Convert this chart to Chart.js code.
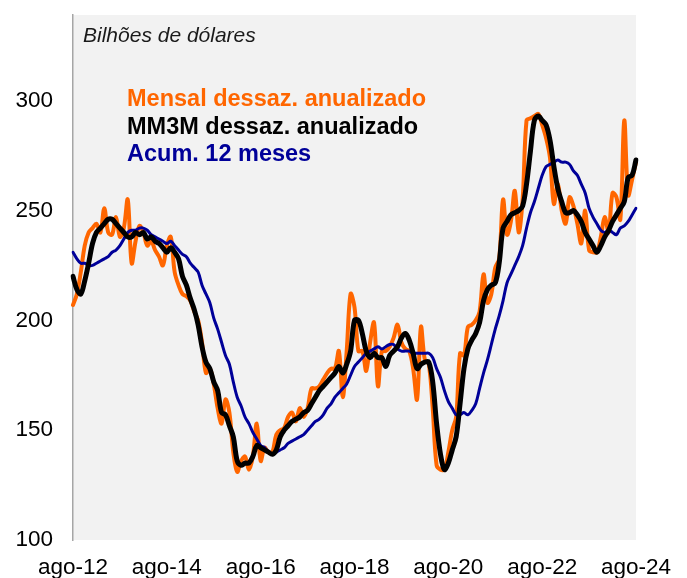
<!DOCTYPE html>
<html lang="pt">
<head>
<meta charset="UTF-8">
<title>Bilhões de dólares</title>
<style>
  body { margin: 0; background: #ffffff; }
  #grafico { display: block; }
</style>
</head>
<body>
<canvas id="grafico" width="687" height="578"></canvas>
<script src="https://cdn.jsdelivr.net/npm/chart.js"></script>
<script>
// meses de ago-12 a ago-24
const nomesMeses = ['jan', 'fev', 'mar', 'abr', 'mai', 'jun', 'jul', 'ago', 'set', 'out', 'nov', 'dez'];
const mesInicial = 7;   // ago
const anoInicial = 12;
const totalMeses = 145;

// Mensal dessaz. anualizado
const mensal = [
  207, 212, 222, 234, 240, 242, 244, 240, 251, 240, 239, 247, 238, 242, 255, 226, 236, 243, 240, 234, 236, 232, 229, 225, 234,
  238, 222, 216, 212, 211, 209, 204, 200, 190, 176, 178, 171, 160, 153, 164, 158, 140, 131, 136, 138, 132, 138, 153, 136, 142,
  140, 140, 148, 150, 151, 156, 158, 154, 160, 156, 160, 169, 169, 170, 173, 176, 178, 178, 186, 165, 186, 212, 206, 186, 186,
  177, 190, 199, 170, 186, 186, 188, 192, 198, 190, 187, 186, 178, 164, 197, 182, 180, 160, 134, 132, 132, 140, 150, 156, 185,
  184, 197, 198, 200, 204, 221, 208, 212, 224, 228, 255, 239, 245, 259, 240, 255, 291, 292, 293, 294, 289, 283, 274, 253, 262,
  250, 244, 256, 252, 244, 235, 250, 232, 231, 231, 238, 247, 240, 258, 256, 246, 291, 257, 264, 272
];

// MM3M dessaz. anualizado
const mm3m = [
  220, 214, 212, 218, 226, 235, 240, 242, 244, 246, 246, 244, 242, 240, 238, 238, 240, 239, 240, 237, 238, 236, 235, 233, 231,
  233, 231, 228, 220, 216, 210, 205, 198, 188, 181, 178, 172, 168, 158, 157, 152, 147, 136, 134, 135, 135, 138, 143, 142, 141,
  140, 139, 141, 147, 150, 152, 154, 155, 156, 158, 159, 162, 165, 168, 170, 172, 174, 176, 179, 176, 180, 186, 200, 200, 194,
  186, 183, 185, 183, 183, 179, 184, 186, 188, 192, 194, 191, 185, 178, 180, 181, 181, 172, 153, 139, 132, 135, 141, 147, 162,
  178, 187, 191, 194, 199, 209, 214, 216, 217, 226, 242, 245, 248, 249, 250, 252, 262, 277, 291, 293, 291, 289, 282, 270, 260,
  254, 249, 249, 250, 248, 245, 240, 237, 234, 231, 234, 238, 241, 245, 248, 251, 254, 265, 266, 273
];

// Acum. 12 meses
const acum12 = [
  231, 228, 226, 226, 225, 225, 226, 227, 228, 229, 231, 232, 234, 237, 240, 241, 241, 242, 242, 241, 239, 238, 237, 236, 235,
  236, 234, 232, 230, 229, 226, 224, 222, 216, 212, 208, 201, 196, 190, 184, 180, 172, 165, 161, 156, 153, 149, 146, 143, 142,
  140, 139, 140, 141, 142, 144, 145, 146, 147, 148, 150, 152, 154, 155, 157, 160, 162, 165, 167, 169, 171, 175, 179, 181, 183,
  185, 186, 187, 188, 187, 188, 189, 189, 187, 186, 186, 186, 185, 185, 185, 185, 185, 183, 178, 174, 168, 163, 160, 157, 157,
  158, 157, 159, 162, 169, 176, 182, 189, 196, 202, 209, 217, 221, 225, 229, 234, 242, 249, 254, 260, 266, 270, 271, 272, 273,
  272, 272, 271, 268, 266, 262, 258, 251, 247, 244, 241, 240, 241, 240, 239, 242, 243, 245, 248, 251
];

const ticksY = [100, 150, 200, 250, 300];

const rotulos = [];
for (let i = 0; i < totalMeses; i++) {
  const m = (mesInicial + i) % 12;
  const a = anoInicial + Math.floor((mesInicial + i) / 12);
  rotulos.push(nomesMeses[m] + '-' + a);
}

const fonte = '"Liberation Sans", Arial, sans-serif';

const fundoETextos = {
  id: 'fundoETextos',
  beforeDraw(chart) {
    const {ctx, chartArea: a} = chart;
    ctx.save();
    ctx.fillStyle = '#f2f2f2';
    ctx.fillRect(a.left, a.top, a.right - a.left, a.bottom - a.top);
    ctx.restore();
  },
  afterDraw(chart) {
    const {ctx, chartArea: a} = chart;
    ctx.save();
    ctx.textBaseline = 'middle';
    ctx.textAlign = 'left';
    ctx.fillStyle = '#1a1a1a';
    ctx.font = 'italic 21px ' + fonte;
    ctx.fillText('Bilhões de dólares', a.left + 10, 36);

    ctx.font = 'bold 23.5px ' + fonte;
    ctx.fillStyle = '#ff6600';
    ctx.fillText('Mensal dessaz. anualizado', a.left + 54, 100);
    ctx.fillStyle = '#000000';
    ctx.fillText('MM3M dessaz. anualizado', a.left + 54, 128);
    ctx.fillStyle = '#000099';
    ctx.fillText('Acum. 12 meses', a.left + 54, 155);
    ctx.restore();
  }
};

const ctx = document.getElementById('grafico').getContext('2d');
new Chart(ctx, {
  type: 'line',
  data: {
    labels: rotulos,
    datasets: [
      {
        label: 'MM3M dessaz. anualizado',
        data: mm3m,
        borderColor: '#000000',
        borderWidth: 5,
        order: 0
      },
      {
        label: 'Acum. 12 meses',
        data: acum12,
        borderColor: '#000099',
        borderWidth: 3,
        order: 1
      },
      {
        label: 'Mensal dessaz. anualizado',
        data: mensal,
        borderColor: '#ff6600',
        borderWidth: 4,
        order: 2
      }
    ]
  },
  options: {
    responsive: false,
    devicePixelRatio: 1,
    animation: false,
    layout: { padding: { top: 15, right: 51, left: 0, bottom: 0 } },
    elements: {
      point: { radius: 0 },
      line: { tension: 0.35, borderCapStyle: 'round', borderJoinStyle: 'round' }
    },
    plugins: {
      legend: { display: false },
      tooltip: { enabled: false }
    },
    scales: {
      x: {
        grid: { display: false },
        border: { display: false },
        ticks: {
          autoSkip: false,
          maxRotation: 0,
          padding: 6,
          color: '#000000',
          font: { family: fonte, size: 22.5 },
          callback: function(val, i) { return i % 24 === 0 ? rotulos[i] : null; }
        },
        afterFit: function(s) { s.height = 38; }
      },
      y: {
        min: 100,
        max: 339,
        grid: { display: false },
        border: { display: true, color: '#a6a6a6', width: 1.5 },
        afterBuildTicks: function(s) { s.ticks = ticksY.map(v => ({ value: v })); },
        ticks: {
          padding: 12,
          color: '#000000',
          font: { family: fonte, size: 22.5 }
        },
        afterFit: function(s) {
          s.width = 73;
          s.paddingTop = 0;
          s.paddingBottom = 0;
        }
      }
    }
  },
  plugins: [fundoETextos]
});
</script>
</body>
</html>
